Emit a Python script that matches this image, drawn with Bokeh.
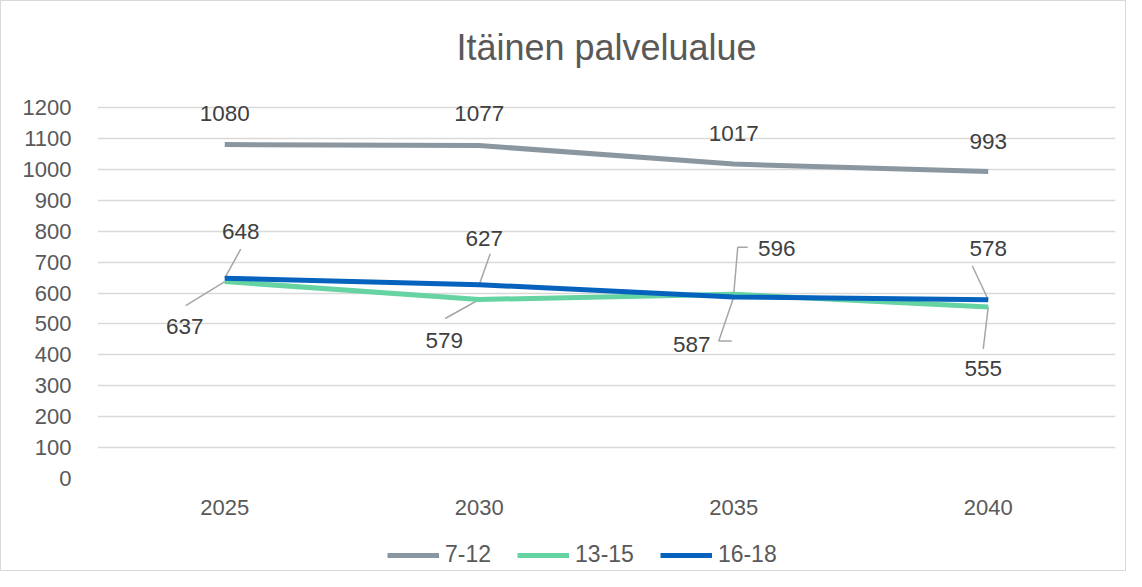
from bokeh.plotting import figure
from bokeh.layouts import column
from bokeh.models import FixedTicker, Legend, LegendItem, Range1d
from bokeh.embed import file_html
from bokeh.resources import INLINE
from bokeh.core.properties import value

# ---- data ----
years = ["2025", "2030", "2035", "2040"]
s_7_12 = [1080, 1077, 1017, 993]
s_13_15 = [637, 579, 596, 555]
s_16_18 = [648, 627, 587, 578]
series_names = ["7-12", "13-15", "16-18"]
y_ticks = [0, 100, 200, 300, 400, 500, 600, 700, 800, 900, 1000, 1100, 1200]
title_text = "Itäinen palvelualue"

# ---- style / layout ----
FONT = "Liberation Sans"
colors = ["#8A97A0", "#66D3A3", "#0563BE"]
W = 1124
H0, H1, H2 = 80, 440, 49
EXTRA = 22  # frame pixels above the top gridline so labels are not clipped
BL, BR, BT, BB = 96, 10, 26 - EXTRA, 43
FW, FH = W - BL - BR, H1 - BT - BB
XMIN, XMAX, YMIN = -0.5, 3.5, 0
YTOP = y_ticks[-1]
YMAX = YTOP * FH / (FH - EXTRA)
dx_px = (XMAX - XMIN) / FW
dy_px = (YMAX - YMIN) / FH

# label offsets (px, y down) and leader-line offset points (px)
label_off = [
    [(0, -31), (0, -32), (0, -31), (0, -30)],
    [(-40, 45), (-35, 41), (43, -46), (-5, 62)],
    [(16, -47), (5, -46), (-42, 47), (0, -51)],
]
leader_off = [
    [None, None, None, None],
    [[(-39, 24)], [(-34, 19)], [(4, -47), (14, -47)], [(-5, 42)]],
    [[(16, -29)], [(11, -31)], [(-15, 44), (-2, 44)], [(-16, -34)]],
]


def bare(fig):
    fig.outline_line_color = None
    fig.xgrid.grid_line_color = None
    fig.ygrid.grid_line_color = None
    fig.border_fill_color = "white"
    fig.background_fill_color = "white"


# ---- title strip ----
p0 = figure(width=W, height=H0, output_backend="svg", toolbar_location=None,
            x_axis_type=None, y_axis_type=None,
            x_range=Range1d(0, 1), y_range=Range1d(0, H0),
            min_border_left=0, min_border_right=0, min_border_top=0,
            min_border_bottom=0)
bare(p0)
p0.text(x=[0.5], y=[34], text=[title_text], text_align="center",
        text_baseline="alphabetic", text_font=value(FONT),
        text_font_size="36px", text_color="#595959")

# ---- main chart ----
p = figure(width=W, height=H1, output_backend="svg", toolbar_location=None,
           x_range=Range1d(XMIN, XMAX), y_range=Range1d(YMIN, YMAX),
           min_border_left=BL, min_border_right=BR, min_border_top=BT,
           min_border_bottom=BB)
p.outline_line_color = None
p.background_fill_color = "white"
p.border_fill_color = "white"

xs_idx = list(range(len(years)))
p.xaxis.ticker = FixedTicker(ticks=xs_idx)
p.xaxis.major_label_overrides = {i: y for i, y in enumerate(years)}
p.yaxis.ticker = FixedTicker(ticks=y_ticks)
for ax in (p.xaxis[0], p.yaxis[0]):
    ax.axis_line_color = None
    ax.major_tick_line_color = None
    ax.minor_tick_line_color = None
    ax.major_label_text_font = FONT
    ax.major_label_text_font_size = "22px"
    ax.major_label_text_color = "#595959"
p.yaxis.major_label_standoff = 20
p.xaxis.major_label_standoff = 15
p.xgrid.grid_line_color = None
p.ygrid.grid_line_color = "#D9D9D9"
p.ygrid.grid_line_width = 1.5

all_series = [s_7_12, s_13_15, s_16_18]

lx, ly = [], []
for si, s in enumerate(all_series):
    for i, v in enumerate(s):
        pts = leader_off[si][i]
        if not pts:
            continue
        xx = [xs_idx[i] + ox * dx_px for ox, oy in reversed(pts)] + [xs_idx[i]]
        yy = [v - oy * dy_px for ox, oy in reversed(pts)] + [v]
        lx.append(xx)
        ly.append(yy)
p.multi_line(lx, ly, line_color="#A6A6A6", line_width=1.5)

for si, s in enumerate(all_series):
    p.line(xs_idx, s, line_color=colors[si], line_width=5)

for si, s in enumerate(all_series):
    p.text(x=xs_idx, y=s, text=[str(v) for v in s],
           x_offset=[o[0] for o in label_off[si]],
           y_offset=[o[1] for o in label_off[si]],
           text_align="center", text_baseline="middle",
           text_font=value(FONT), text_font_size="22.5px", text_color="#404040")

# ---- legend strip ----
p2 = figure(width=W, height=H2, output_backend="svg", toolbar_location=None,
            x_axis_type=None, y_axis_type=None,
            x_range=Range1d(0, 1), y_range=Range1d(0, 1),
            min_border_left=0, min_border_right=0, min_border_top=0,
            min_border_bottom=0)
bare(p2)
leg_r = []
for si, s in enumerate(all_series):
    leg_r.append(p2.line(xs_idx, s, line_color=colors[si], line_width=5))

legend = Legend(items=[LegendItem(label=n, renderers=[r]) for n, r in zip(series_names, leg_r)],
                orientation="horizontal", location=(290, 2))
legend.border_line_color = None
legend.background_fill_alpha = 0
legend.padding = 0
legend.margin = 0
legend.glyph_width = 52
legend.glyph_height = 24
legend.label_standoff = 6
legend.spacing = 26
legend.label_text_font = FONT
legend.label_text_font_size = "23px"
legend.label_text_color = "#595959"
p2.add_layout(legend, "center")

layout = column(p0, p, p2, spacing=0)
layout.styles = {"border": "1px solid #D9D9D9"}

open("out.html", "w").write(file_html(layout, INLINE))
